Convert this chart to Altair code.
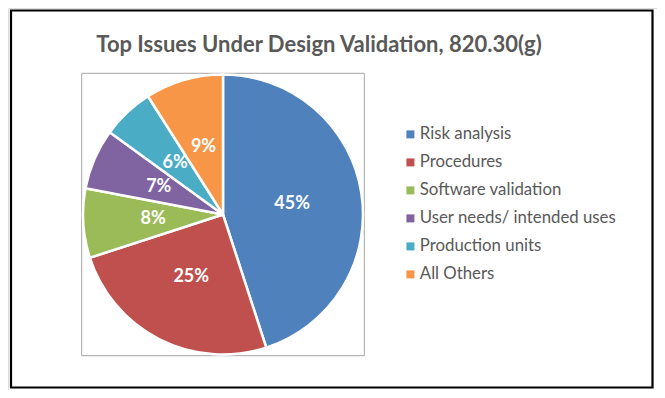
import altair as alt
import pandas as pd

categories = ["Risk analysis", "Procedures", "Software validation",
              "User needs/ intended uses", "Production units", "All Others"]
values = [45, 25, 8, 7, 6, 9]
labels = ["45%", "25%", "8%", "7%", "6%", "9%"]
colors = ["#4F81BD", "#C0504D", "#9BBB59", "#8064A2", "#4BACC6", "#F79646"]
title_text = "Top Issues Under Design Validation, 820.30(g)"

df = pd.DataFrame({"category": categories, "value": values,
                   "label": labels, "idx": list(range(len(categories)))})

W, H = 649, 382
CX, CY, R = 215, 206.5, 140
FONT = "Lato"

color_scale = alt.Scale(domain=categories, range=colors)

frame = alt.Chart(pd.DataFrame({"a": [0]})).mark_rect(
    fill="white", stroke="black", strokeWidth=2.2
).encode(x=alt.value(3), x2=alt.value(644.5), y=alt.value(2.5), y2=alt.value(379.5))

plot_box = alt.Chart(pd.DataFrame({"a": [0]})).mark_rect(
    fill="white", stroke="#A6A6A6", strokeWidth=1
).encode(x=alt.value(73.7), x2=alt.value(356.3), y=alt.value(65.3), y2=alt.value(347.7))

title = alt.Chart(pd.DataFrame({"t": [title_text]})).mark_text(
    font=FONT, fontSize=22, fontWeight="bold", color="#595959",
    align="center", baseline="alphabetic"
).encode(x=alt.value(311), y=alt.value(43.7), text="t:N")

pie = alt.Chart(df).mark_arc(stroke="white", strokeWidth=2.5).encode(
    theta=alt.Theta("value:Q", stack=True),
    order=alt.Order("idx:Q"),
    color=alt.Color("category:N", scale=color_scale, sort=categories,
                    legend=alt.Legend(
                        title=None, orient="none", legendX=394, legendY=118,
                        symbolType="square", symbolSize=64, symbolStrokeWidth=0,
                        labelFont=FONT, labelFontSize=16.8, labelColor="#595959",
                        labelOffset=1, rowPadding=10, padding=0,
                        labelLimit=300)),
    x=alt.value(CX), y=alt.value(CY), radius=alt.value(R),
)

text = alt.Chart(df).mark_text(
    font=FONT, fontSize=18, fontWeight="bold", color="white",
    align="center", baseline="middle"
).encode(
    theta=alt.Theta("value:Q", stack=True),
    order=alt.Order("idx:Q"),
    text="label:N",
    x=alt.value(CX), y=alt.value(CY), radius=alt.value(70),
)

chart = alt.layer(frame, plot_box, title, pie, text).properties(
    width=W, height=H, autosize=alt.AutoSizeParams(type="none"), padding=0
).configure_view(stroke=None).configure(background="white")

chart.save("out.html", embed_options={"renderer": "svg", "actions": False})
